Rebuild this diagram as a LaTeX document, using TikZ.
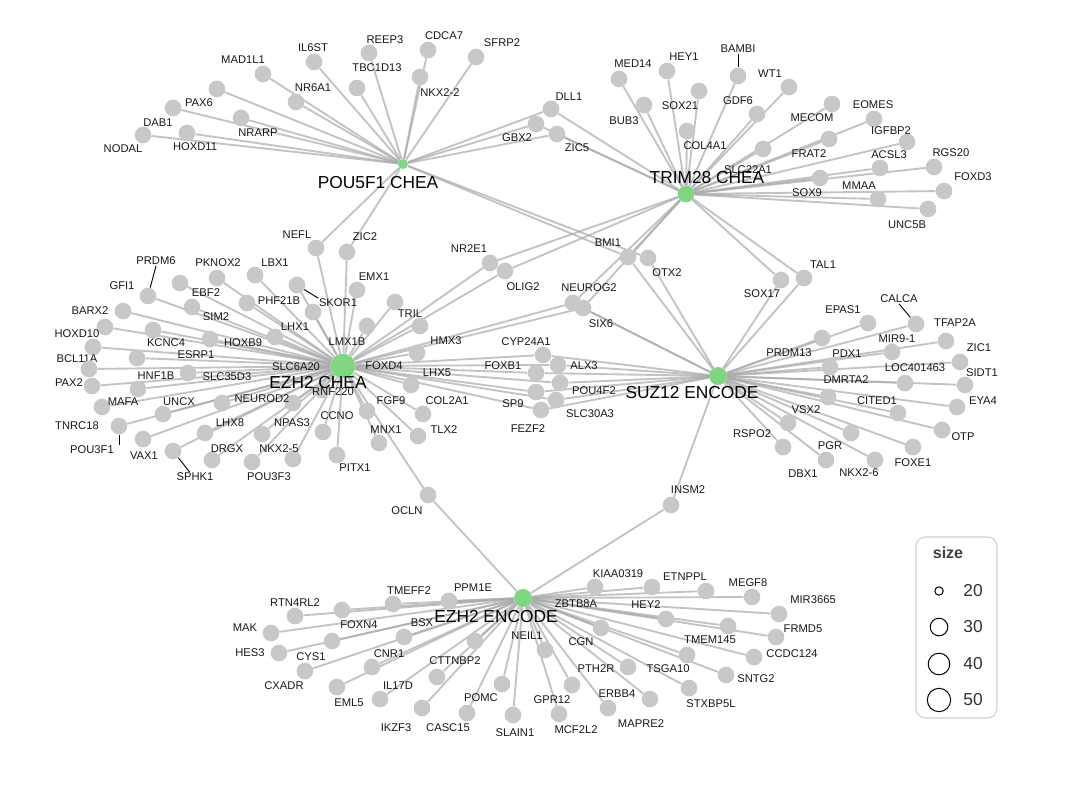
\documentclass[tikz,border=0pt]{standalone}
\usepackage{fontspec}
\setmainfont{Liberation Sans}
\usetikzlibrary{backgrounds}
\definecolor{edgec}{RGB}{170,170,170}
\definecolor{nodec}{RGB}{200,200,200}
\definecolor{hubc}{RGB}{128,214,128}
\begin{document}
\begin{tikzpicture}[x=0.75pt,y=-0.75pt,
  gn/.style={circle, fill=nodec, inner sep=0pt, minimum size=12.5pt},
  hub/.style={circle, fill=hubc, inner sep=0pt},
  lbl/.style={font=\fontsize{8.4}{10}\selectfont, text=black!90, inner sep=0.5pt},
  hublbl/.style={font=\fontsize{13}{15}\selectfont, text=black, inner sep=0pt},
  edge/.style={draw=edgec, line width=1.4pt, draw opacity=0.7},
  leader/.style={draw=black, line width=0.7pt},
  legendbox/.style={draw=black!18, rounded corners=7pt, line width=0.8pt, minimum width=60.75pt, minimum height=135.75pt, inner sep=0pt},
  legcirc/.style={circle, draw=black, line width=0.75pt, inner sep=0pt},
  legtxt/.style={font=\fontsize{13}{15}\selectfont, text=black!80, inner sep=0pt}]
\useasboundingbox (0,0) rectangle (1080,792);
\begin{scope}[on background layer]
\fill[white] (0,0) rectangle (1080,792);
\end{scope}
% hubs
\node[hub, minimum size=7.5pt] (P) at (403,164) {};
\node[hub, minimum size=12.5pt] (T) at (686,194) {};
\node[hub, minimum size=18.5pt] (C) at (343,366) {};
\node[hub, minimum size=13.5pt] (S) at (718,376) {};
\node[hub, minimum size=13.5pt] (E) at (523,598) {};
% gene nodes: id/cx/cy/lx/ly/text
\foreach \n/\cx/\cy/\lx/\ly/\t in {
 NODAL/143/135/123/149/NODAL, DABi/173/108/158/123/DAB1, PAXvi/217/89/199/103/PAX6,
 MAD/263/74/243/60/MAD1L1, ILst/314/62/313/48/IL6ST, REEP/369/53/385/40/REEP3,
 CDCA/428/50/444/36/CDCA7, SFRP/476/57/502/43/SFRP2, TBC/357/88/377/68/TBC1D13,
 NKXtt/420/77/440/93/NKX2-2, NRvi/296/102/313/88/NR6A1, NRARP/241/118/258/133/NRARP,
 HOXDxi/187/133/195/147/HOXD11, DLL/551/109/569/97/DLL1, GBX/536/124/517/138/GBX2,
 ZICv/557/134/577/148/ZIC5,
 MEDxiv/619/79/633/64/MED14, HEYi/667/71/684/57/HEY1, BAMBI/738/76/738/49/BAMBI,
 WTi/789/87/770/74/WT1, SOXxxi/699/91/680/106/SOX21, GDFvi/757/114/738/101/GDF6,
 BUB/644/105/624/121/BUB3, COL/687/131/705/146/COL4A1, MECOM/832/104/812/118/MECOM,
 EOMES/874/119/873/105/EOMES, IGF/907/142/891/131/IGFBP2, ACSL/880/168/889/155/ACSL3,
 RGS/934/167/951/153/RGS20, FOXDiii/944/191/973/177/FOXD3, MMAA/878/199/859/186/MMAA,
 UNC/928/209/907/225/UNC5B, FRAT/829/139/809/154/FRAT2, SLCxx/763/149/748/170/SLC22A1,
 SOXix/820/178/807/193/SOX9,
 NRiiei/490/263/469/249/NR2E1, OLIG/505/271/523/287/OLIG2, BMI/628/257/608/243/BMI1,
 OTX/648/258/667/273/OTX2, NEUROG/573/303/589/288/NEUROG2, SIXvi/583/308/601/324/SIX6,
 SOXxvii/781/280/762/294/SOX17, TAL/804/278/823/265/TAL1,
 CYP/543/355/526/342/CYP24A1, FOXBi/536/373/503/366/FOXB1, ALX/558/365/584/366/ALX3,
 POUivf/560/383/594/391/POU4F2, SPix/536/392/513/404/SP9, SLCxxx/556/400/590/414/SLC30A3,
 FEZ/541/410/528/429/FEZF2, OCLN/428/495/407/511/OCLN, INSM/671/505/688/490/INSM2,
 EPAS/868/323/843/310/EPAS1, CALCA/916/324/899/299/CALCA, TFAP/946/341/955/323/TFAP2A,
 PRDMxiii/822/338/789/353/PRDM13, MIR/892/352/897/339/MIR9-1, PDX/830/367/847/354/PDX1,
 ZICi/960/362/979/348/ZIC1, LOC/905/383/915/368/LOC401463, SIDT/965/385/982/373/SIDT1,
 DMRT/828/397/846/380/DMRTA2, CITED/898/413/877/401/CITED1, EYA/957/407/983/401/EYA4,
 VSX/788/423/806/410/VSX2, PGR/851/433/830/446/PGR, OTP/942/430/963/437/OTP,
 RSPO/783/447/752/434/RSPO2, FOXEi/913/447/913/463/FOXE1, DBX/826/460/803/474/DBX1,
 NKXtvi/875/460/859/473/NKX2-6,
 RTN/295/616/295/603/RTN4RL2, TMEFF/393/604/409/591/TMEFF2, PPM/449/601/473/588/PPM1E,
 FOXN/342/610/359/625/FOXN4, MAK/271/633/245/628/MAK, HES/279/653/250/653/HES3,
 CYS/332/641/311/657/CYS1, CXADR/305/671/284/686/CXADR, BSX/404/637/422/623/BSX,
 CNR/372/667/389/654/CNR1, EML/337/687/349/703/EML5, IL/380/699/398/686/IL17D,
 CTT/437/677/455/661/CTTNBP2, IKZF/422/708/396/728/IKZF3, CASC/467/713/448/728/CASC15,
 POMC/502/684/481/698/POMC, SLAIN/513/715/515/733/SLAIN1, NEIL/545/650/527/636/NEIL1,
 ZBTB/595/587/576/604/ZBTB8A, KIAA/652/587/618/574/KIAA0319, ETN/706/591/685/577/ETNPPL,
 MEGF/752/597/748/583/MEGF8, MIRiii/779/614/813/600/MIR3665, HEYii/666/619/646/605/HEY2,
 FRMD/776/637/803/629/FRMD5, TMEM/728/626/710/640/TMEM145, CCDC/754/657/792/654/CCDC124,
 TSGA/687/655/668/669/TSGA10, SNTG/726/675/756/679/SNTG2, STX/689/688/711/704/STXBP5L,
 CGN/601/628/581/642/CGN, PTH/628/667/596/669/PTH2R, ERBB/608/708/617/694/ERBB4,
 MAPRE/650/699/641/724/MAPRE2, GPR/572/685/552/700/GPR12, MCF/559/714/576/730/MCF2L2,
 NEFL/316/248/297/235/NEFL, ZICii/347/252/365/237/ZIC2, GFI/180/283/122/286/GFI1,
 PKNOX/217/278/218/263/PKNOX2, LBX/255/275/275/263/LBX1, SKOR/297/285/338/303/SKOR1,
 PRDMvi/148/296/156/261/PRDM6, EBF/192/307/206/293/EBF2, PHF/247/303/279/301/PHF21B,
 LHXi/313/312/295/327/LHX1, BARX/123/311/90/311/BARX2, HOXDx/105/327/77/334/HOXD10,
 KCNC/153/330/166/343/KCNC4, SIM/210/339/216/317/SIM2, HOXB/275/337/243/343/HOXB9,
 BCL/93/347/77/359/BCL11A, HNF/137/358/156/376/HNF1B, SLCvi/89/369/296/367/SLC6A20,
 ESRP/188/373/196/355/ESRP1, PAXii/92/386/69/383/PAX2, TNRC/102/407/77/426/TNRC18,
 MAFA/138/389/123/402/MAFA, UNCX/163/414/179/402/UNCX, POUiiii/119/426/92/450/POU3F1,
 VAX/143/439/144/456/VAX1, SPHK/173/451/195/477/SPHK1, SLCxxxv/222/403/227/377/SLC35D3,
 NEUROD/293/403/262/399/NEUROD2, LHXviii/205/433/230/423/LHX8, DRGX/212/460/227/449/DRGX,
 NPAS/262/434/292/423/NPAS3, NKXiiv/293/459/279/449/NKX2-5, POUiii/252/462/269/477/POU3F3,
 CCNO/323/432/337/416/CCNO, RNF/322/390/333/392/RNF220, EMX/357/290/374/277/EMX1,
 FOXDiv/395/302/384/366/FOXD4, TRIL/420/326/410/314/TRIL, LMX/367/326/347/342/LMX1B,
 HMX/417/353/446/341/HMX3, LHXv/411/385/437/373/LHX5, FGF/367/411/391/401/FGF9,
 COLii/423/414/447/401/COL2A1, MNX/379/443/386/430/MNX1, TLX/418/436/444/430/TLX2,
 PITX/337/455/355/468/PITX1}
{
  \node[gn] (\n) at (\cx,\cy) {};
  \node[lbl] (\n-l) at (\lx,\ly) {\t};
}
\node[gn] (Nx) at (475,641) {};
% edges
\begin{scope}[on background layer]
\foreach \g in {NODAL,DABi,PAXvi,MAD,ILst,REEP,CDCA,SFRP,TBC,NKXtt,NRvi,NRARP,HOXDxi,DLL,GBX,ZICv,NEFL,ZICii,BMI,OTX}
  \draw[edge] (P) -- (\g);
\foreach \g in {MEDxiv,HEYi,BAMBI,WTi,SOXxxi,GDFvi,BUB,COL,MECOM,EOMES,IGF,ACSL,RGS,FOXDiii,MMAA,UNC,FRAT,SLCxx,SOXix,DLL,GBX,ZICv,NRiiei,OLIG,BMI,NEUROG,SIXvi,SOXxvii,TAL}
  \draw[edge] (T) -- (\g);
\foreach \g in {NEFL,ZICii,GFI,PKNOX,LBX,SKOR,PRDMvi,EBF,PHF,LHXi,BARX,HOXDx,KCNC,SIM,HOXB,BCL,HNF,SLCvi,ESRP,PAXii,TNRC,MAFA,UNCX,POUiiii,VAX,SPHK,SLCxxxv,NEUROD,LHXviii,DRGX,NPAS,NKXiiv,POUiii,CCNO,RNF,EMX,FOXDiv,TRIL,LMX,HMX,LHXv,FGF,COLii,MNX,TLX,PITX,NRiiei,OLIG,NEUROG,SIXvi,CYP,FOXBi,ALX,POUivf,SPix,SLCxxx,FEZ,OCLN}
  \draw[edge] (C) -- (\g);
\foreach \g in {EPAS,CALCA,TFAP,PRDMxiii,MIR,PDX,ZICi,LOC,SIDT,DMRT,CITED,EYA,VSX,PGR,OTP,RSPO,FOXEi,DBX,NKXtvi,BMI,OTX,NEUROG,SIXvi,SOXxvii,TAL,CYP,FOXBi,ALX,POUivf,SPix,SLCxxx,FEZ,INSM}
  \draw[edge] (S) -- (\g);
\foreach \g in {RTN,TMEFF,PPM,FOXN,MAK,HES,CYS,CXADR,BSX,CNR,EML,IL,CTT,IKZF,CASC,POMC,SLAIN,NEIL,ZBTB,KIAA,ETN,MEGF,MIRiii,HEYii,FRMD,TMEM,CCDC,TSGA,SNTG,STX,CGN,PTH,ERBB,MAPRE,GPR,MCF,Nx,OCLN,INSM}
  \draw[edge] (E) -- (\g);
\end{scope}
% leader lines
\draw[leader] (PRDMvi-l.south) -- (PRDMvi);
\draw[leader] (SKOR) -- (SKOR-l.north west);
\draw[leader] (POUiiii) -- (POUiiii |- POUiiii-l.north);
\draw[leader] (SPHK) -- ([xshift=-4pt]SPHK-l.north);
\draw[leader] (BAMBI-l.south) -- (BAMBI);
\draw[leader] (CALCA-l.south) -- (CALCA);
% hub labels
\node[hublbl] (Pl) at (378,183) {POU5F1 CHEA};
\node[hublbl] (Tl) at (707,178) {TRIM28 CHEA};
\node[hublbl] (Cl) at (318,383) {EZH2 CHEA};
\node[hublbl] (Sl) at (692,393) {SUZ12 ENCODE};
\node[hublbl] (El) at (496,617) {EZH2 ENCODE};
% legend
\node[legendbox] (legend) at (956.5,627.5) {};
\node[font=\bfseries\fontsize{12}{14}\selectfont, text=black!75, inner sep=0pt] (legt) at (948,553) {size};
\node[legcirc, minimum size=6.3pt] (l20) at (939,591) {};
\node[legcirc, minimum size=13.2pt] (l30) at (939,627) {};
\node[legcirc, minimum size=16.2pt] (l40) at (939,664) {};
\node[legcirc, minimum size=17.5pt] (l50) at (939,700) {};
\node[legtxt] (t20) at (973,591) {20};
\node[legtxt] (t30) at (973,627) {30};
\node[legtxt] (t40) at (973,664) {40};
\node[legtxt] (t50) at (973,700) {50};
\end{tikzpicture}
\end{document}
